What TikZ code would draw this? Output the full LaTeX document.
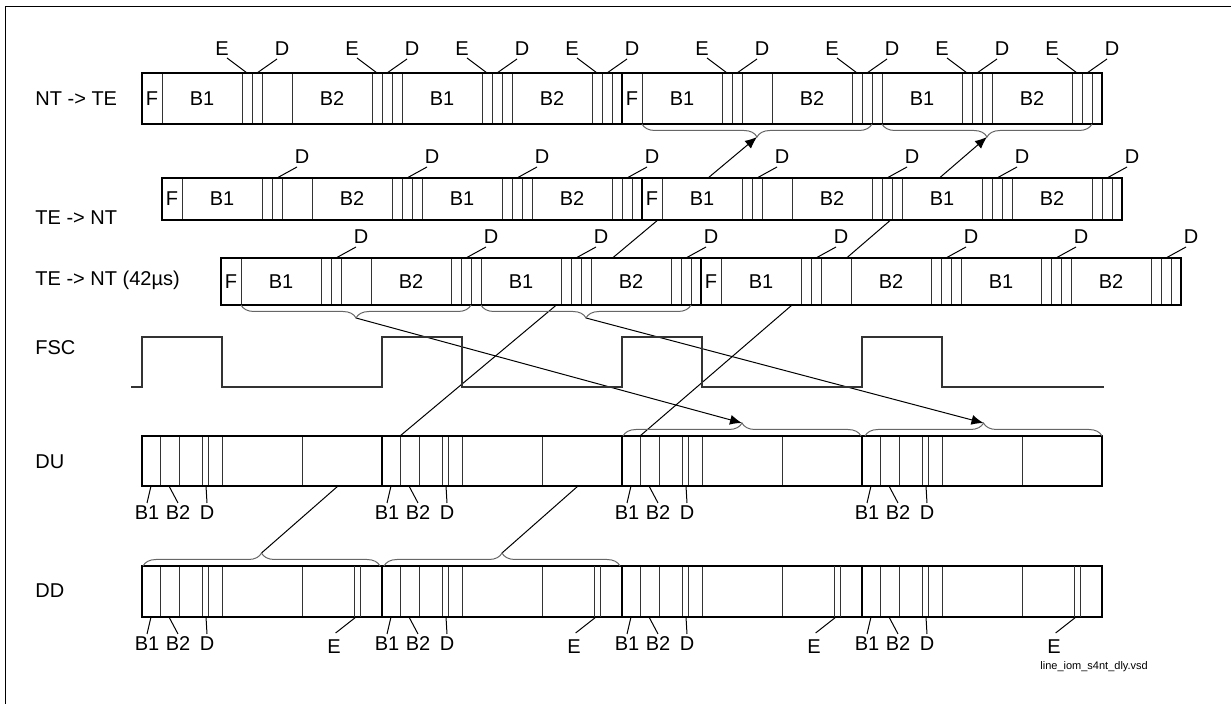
\documentclass[tikz,border=0pt]{standalone}
\usepackage{fontspec}
\setmainfont{Liberation Sans}
\usetikzlibrary{arrows.meta,decorations.pathreplacing,backgrounds}

\begin{document}
\begin{tikzpicture}[x=0.5pt,y=-0.5pt,
    txt/.style={font=\fontsize{10}{12}\selectfont,inner sep=0pt},
    rowname/.style={txt,anchor=west},
    box/.style={line width=1.3pt},
    div/.style={line width=0.5pt,black!80},
    lead/.style={line width=0.5pt},
    brcup/.style={decorate,decoration={brace,amplitude=6.5pt},line width=0.5pt,black!60},
    brcdown/.style={decorate,decoration={brace,mirror,amplitude=6.5pt},line width=0.5pt,black!60},
    flow/.style={line width=0.5pt},
    head/.style={-{Latex[length=6pt,width=5pt]}}]
  \useasboundingbox (0,0) rectangle (1231,704);

  % sheet border
  \draw[line width=0.5pt] (5,704) -- (5,7) -- (1231,7);

  % row names
  \node[rowname] (nNTTE) at (35,99)  {NT -> TE};
  \node[rowname] (nTENT) at (35,218) {TE -> NT};
  \node[rowname] (nTE42) at (35,280) {TE -> NT (42µs)};
  \node[rowname] (nFSC)  at (35,348) {FSC};
  \node[rowname] (nDU)   at (35,462) {DU};
  \node[rowname] (nDD)   at (35,591) {DD};

  % S frames: 48 bits, 10 units per bit
  \foreach \xs/\ytop/\ybot/\rw/\ly in {142/73/124/a/24, 162/178/220/b/21, 221/258/305/c/21} {
    \foreach \fr in {0,1} {
      \pgfmathsetmacro\xf{\xs+480*\fr}
      \fill[white] (\xf,\ytop) rectangle (\xf+480,\ybot);
      \foreach \bt in {2,10,11,12,15,23,24,25,26,34,35,36,37,45,46,47}
        \draw[div] (\xf+10*\bt,\ytop) -- (\xf+10*\bt,\ybot);
      \draw[box] (\xf,\ytop) rectangle (\xf+480,\ybot);
      \node[txt] (\rw\fr F) at (\xf+10,{(\ytop+\ybot)/2}) {F};
      \foreach \cx/\lab in {6/B1,19/B2,30/B1,41/B2}
        \node[txt] (\rw\fr\lab\cx) at (\xf+10*\cx,{(\ytop+\ybot)/2}) {\lab};
      % D bits
      \foreach \dbit in {11,24,35,46} {
        \node[txt] (\rw\fr D\dbit) at (\xf+10*\dbit+30,\ytop-\ly) {D};
        \draw[lead] (\xf+10*\dbit+5,\ytop) -- ([xshift=-2.5pt,yshift=-5pt]\rw\fr D\dbit.center);
      }
    }
  }

  % E bits, NT -> TE only
  \foreach \fr in {0,1} {
    \pgfmathsetmacro\xf{142+480*\fr}
    \foreach \ebit in {10,23,34,45} {
      \node[txt] (a\fr E\ebit) at (\xf+10*\ebit-20,49) {E};
      \draw[lead] (\xf+10*\ebit+5,73) -- ([xshift=2.5pt,yshift=-4.5pt]a\fr E\ebit.center);
    }
  }

  % FSC
  \draw[line width=0.6pt,black!80] (131,387)
    \foreach \fr in {0,...,3} { -- (142+240*\fr,387) -- (142+240*\fr,337) -- (222+240*\fr,337) -- (222+240*\fr,387) }
    -- (1104,387);

  % IOM frames DU and DD
  \foreach \ytop/\ybot/\rw in {436/486/u, 566/617/d} {
    \foreach \fr in {0,...,3} {
      \pgfmathsetmacro\xf{142+240*\fr}
      \fill[white] (\xf,\ytop) rectangle (\xf+240,\ybot);
      \foreach \off in {18,37,60,66,80,160}
        \draw[div] (\xf+\off,\ytop) -- (\xf+\off,\ybot);
      \draw[box] (\xf,\ytop) rectangle (\xf+240,\ybot);
      \node[txt] (\rw\fr B1) at (\xf+5,\ybot+27) {B1};
      \node[txt] (\rw\fr B2) at (\xf+36,\ybot+27) {B2};
      \node[txt] (\rw\fr D) at (\xf+65,\ybot+27) {D};
      \draw[lead] (\xf+9,\ybot) -- ([yshift=5pt]\rw\fr B1.center);
      \draw[lead] (\xf+27,\ybot) -- ([yshift=5pt]\rw\fr B2.center);
      \draw[lead] (\xf+64,\ybot) -- ([yshift=5pt]\rw\fr D.center);
      \coordinate (\rw\fr top) at (\xf+18,\ytop);
      \coordinate (\rw\fr bot) at (\xf+196,\ybot);
    }
  }

  % E bits in DD
  \foreach \fr in {0,...,3} {
    \pgfmathsetmacro\xf{142+240*\fr}
    \draw[div] (\xf+212,566) -- (\xf+212,617) (\xf+218,566) -- (\xf+218,617);
    \node[txt] (d\fr E) at (\xf+192,647) {E};
    \draw[lead] (\xf+214,617) -- ([xshift=0.8pt,yshift=7pt]d\fr E.center);
  }

  % braces and their tips
  \foreach \x/\y/\w/\n in {642/124/230/ta1, 882/124/210/ta2, 241/305/230/tc1, 481/305/210/tc2} {
    \draw[brcdown] (\x,\y) -- (\x+\w,\y);
    \coordinate (\n) at (\x+\w/2,\y+13);
  }
  \foreach \x/\y/\w/\n in {623/436/238/tu1, 865/436/237/tu2, 143/566/237/td1, 384/566/236/td2} {
    \draw[brcup] (\x,\y) -- (\x+\w,\y);
    \coordinate (\n) at (\x+\w/2,\y-13);
  }

  % delays, behind the frames
  \begin{scope}[on background layer]
    \draw[flow,head] (u1top) -- (ta1);
    \draw[flow,head] (u2top) -- (ta2);
    \draw[flow,head] (tc1) -- (tu1);
    \draw[flow,head] (tc2) -- (tu2);
    \draw[flow] (u0bot) -- (td1);
    \draw[flow] (u1bot) -- (td2);
  \end{scope}

  \node[font=\fontsize{5.5}{7}\selectfont,inner sep=0pt,anchor=west] (fname) at (1040,667) {line\_iom\_s4nt\_dly.vsd};
\end{tikzpicture}
\end{document}
